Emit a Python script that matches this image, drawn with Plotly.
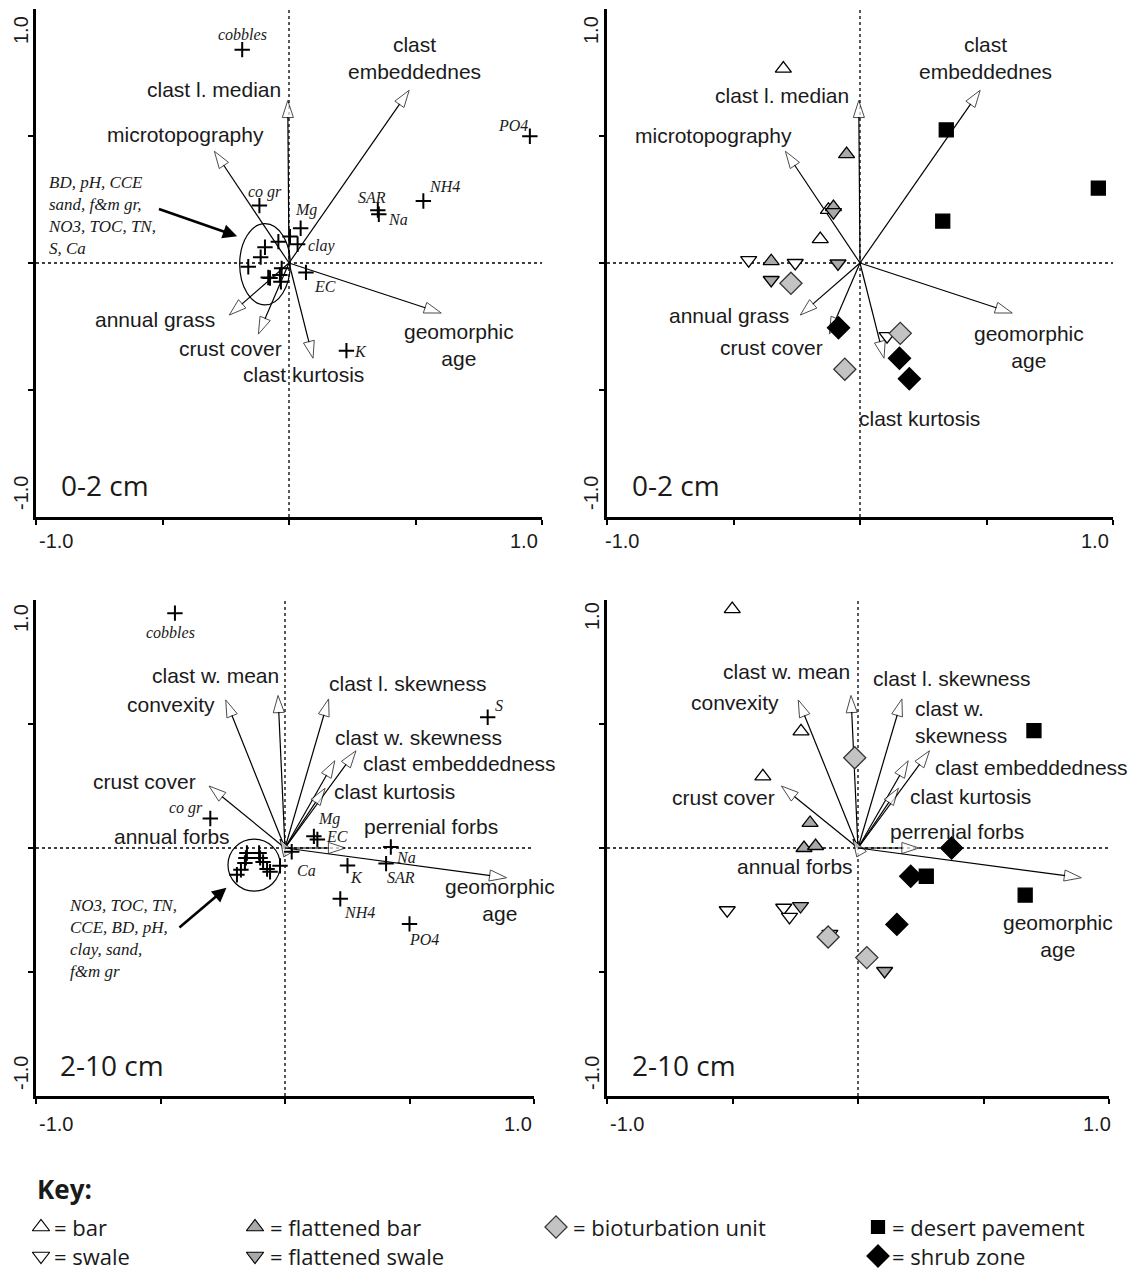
import plotly.graph_objects as go

W, H = 1135, 1272

# ======================= DATA =======================
# ---- 0-2 cm : biplot vectors ----
vec02_names = ["clast l. median", "clast<br>embeddednes", "microtopography",
               "annual grass", "crust cover", "clast kurtosis", "geomorphic<br>age"]
vec02_x = [-0.005, 0.475, -0.295, -0.236, -0.121, 0.095, 0.602]
vec02_y = [0.640, 0.680, 0.440, -0.205, -0.280, -0.375, -0.197]

# ---- 0-2 cm : soil variables ("+") ----
soil02_names = ["cobbles", "PO4", "NH4", "SAR", "Na", "Mg", "clay", "EC", "K", "co gr"]
soil02_x = [-0.185, 0.952, 0.531, 0.351, 0.355, 0.046, 0.034, 0.067, 0.227, -0.117]
soil02_y = [0.840, 0.499, 0.244, 0.208, 0.192, 0.137, 0.074, -0.037, -0.345, 0.226]
clus02_x = [0.004, -0.042, -0.095, -0.112, -0.161, -0.029, -0.036, -0.082, -0.075, -0.032]
clus02_y = [0.104, 0.084, 0.062, 0.023, -0.015, -0.021, -0.047, -0.057, -0.059, -0.074]
clus02_note = "BD, pH, CCE<br>sand, f&m gr,<br>NO3, TOC, TN,<br>S, Ca"

# ---- 0-2 cm : sites ----
bar02_x = [-0.303, -0.157, -0.125]
bar02_y = [0.765, 0.094, 0.209]
flatbar02_x = [-0.053, -0.351, -0.105]
flatbar02_y = [0.429, 0.007, 0.220]
swale02_x = [-0.440, -0.256, 0.107]
swale02_y = [0.011, 0.000, -0.288]
flatswale02_x = [-0.105, -0.087, -0.351]
flatswale02_y = [0.200, -0.002, -0.067]
bio02_x = [-0.273, 0.159, -0.060]
bio02_y = [-0.080, -0.277, -0.418]
pave02_x = [0.341, 0.942, 0.327]
pave02_y = [0.524, 0.295, 0.165]
shrub02_x = [-0.085, 0.156, 0.195]
shrub02_y = [-0.255, -0.375, -0.456]

# ---- 2-10 cm : biplot vectors ----
vec210_names = ["clast w. mean", "convexity", "clast l. skewness", "clast w. skewness",
                "clast embeddedness", "clast kurtosis", "crust cover", "annual forbs",
                "perrenial forbs", "geomorphic<br>age"]
vec210_names_r = ["clast w. mean", "convexity", "clast l. skewness", "clast w.<br>skewness",
                  "clast embeddedness", "clast kurtosis", "crust cover", "annual forbs",
                  "perrenial forbs", "geomorphic<br>age"]
vec210_x = [-0.028, -0.238, 0.175, 0.200, 0.285, 0.161, -0.305, -0.020, 0.243, 0.890]
vec210_y = [0.615, 0.597, 0.601, 0.352, 0.392, 0.241, 0.250, 0.035, 0.000, -0.120]

# ---- 2-10 cm : soil variables ----
soil210_names = ["cobbles", "S", "co gr", "Mg", "EC", "Na", "SAR", "K", "Ca", "NH4", "PO4"]
soil210_x = [-0.442, 0.814, -0.300, 0.116, 0.130, 0.425, 0.406, 0.251, 0.027, 0.222, 0.500]
soil210_y = [0.947, 0.527, 0.119, 0.047, 0.034, 0.004, -0.063, -0.071, -0.015, -0.205, -0.306]
clus210_x = [-0.153, -0.104, -0.157, -0.100, -0.161, -0.177, -0.193, -0.088, -0.072, -0.060, -0.020]
clus210_y = [-0.020, -0.020, -0.040, -0.040, -0.060, -0.088, -0.108, -0.056, -0.085, -0.096, -0.072]
clus210_note = "NO3, TOC, TN,<br>CCE, BD, pH,<br>clay, sand,<br>f&m gr"

# ---- 2-10 cm : sites ----
bar210_x = [-0.501, -0.227, -0.379]
bar210_y = [0.963, 0.470, 0.289]
flatbar210_x = [-0.191, -0.215, -0.169]
flatbar210_y = [0.101, 0.000, 0.008]
swale210_x = [-0.521, -0.296, -0.273]
swale210_y = [-0.251, -0.241, -0.278]
flatswale210_x = [-0.229, -0.112, 0.106]
flatswale210_y = [-0.234, -0.346, -0.496]
bio210_x = [-0.013, -0.119, 0.035]
bio210_y = [0.364, -0.359, -0.442]
pave210_x = [0.701, 0.272, 0.666]
pave210_y = [0.473, -0.114, -0.190]
shrub210_x = [0.373, 0.210, 0.155]
shrub210_y = [0.000, -0.114, -0.308]

key_labels = ["= bar", "= flattened bar", "= bioturbation unit", "= desert pavement",
              "= swale", "= flattened swale", "= shrub zone"]
panel_labels = ["0-2 cm", "0-2 cm", "2-10 cm", "2-10 cm"]

# ======================= LAYOUT / STYLE =======================
# label positions (data coords) for vector names
lab_tl = [(-0.295, 0.684), (0.497, 0.808), (-0.41, 0.505), (-0.53, -0.221),
          (-0.233, -0.335), (0.057, -0.44), (0.67, -0.322)]
lab_tr = [(-0.308, 0.661), (0.497, 0.808), (-0.581, 0.503), (-0.518, -0.208),
          (-0.348, -0.334), (0.234, -0.613), (0.668, -0.33)]
lab_bl = [(-0.28, 0.694), (-0.459, 0.577), (0.494, 0.664), (0.535, 0.445),
          (0.70, 0.341), (0.441, 0.226), (-0.564, 0.267), (-0.454, 0.047),
          (0.587, 0.085), (0.862, -0.21)]
lab_br = [(-0.285, 0.711), (-0.49, 0.585), (0.374, 0.684), (0.221, 0.507),
          (0.692, 0.326), (0.447, 0.208), (-0.536, 0.205), (-0.251, -0.076),
          (0.396, 0.068), (0.796, -0.353)]
# pixel offsets for soil labels
off02 = [(0, 15), (-17, 11), (21, 15), (-6, 13), (19, -5), (5, 18), (24, -2), (19, -14), (14, -1), (6, 14)]
off210 = [(-4, -19), (11, 12), (-24, 10), (15, 17), (20, 3), (15, -10), (15, -14), (9, -12), (15, -19), (19, -14), (14, -16)]

# panel domains in pixels: (x0, x1, y0_top, y1_bottom)
panels = [(36, 542, 9, 517), (607, 1113, 9, 517), (36, 534, 600, 1096), (607, 1109, 600, 1096)]

SANS = "Liberation Sans, Arial, sans-serif"
SERIF = "Liberation Serif, Times New Roman, serif"
MYR = "Open Sans, sans-serif"
TXT = "#1a1a1a"
GRAY_T = "#a9a9a9"
GRAY_D = "#c3c3c3"

fig = go.Figure()
ann = []
shapes = []

def axn(i):
    return ("x" if i == 0 else "x%d" % (i + 1)), ("y" if i == 0 else "y%d" % (i + 1))


def add_vectors(i, xs, ys, names, labpos, anchors=None):
    xa, ya = axn(i)
    for k, (x, y) in enumerate(zip(xs, ys)):
        fig.add_trace(go.Scatter(
            x=[0, x], y=[0, y], mode="lines+markers", xaxis=xa, yaxis=ya,
            line=dict(color="black", width=1.2),
            marker=dict(symbol="arrow", size=[0, 18], angleref="previous",
                        color="white", line=dict(color="black", width=1)),
            hoverinfo="skip", showlegend=False))
        lx, ly = labpos[k]
        xanch = anchors[k] if anchors else "center"
        ann.append(dict(x=lx, y=ly, xref=xa, yref=ya, text=names[k], showarrow=False,
                        xanchor=xanch, yanchor="middle", align="left" if xanch == "left" else "center",
                        font=dict(family=SANS, size=21, color=TXT)))


def add_soil(i, xs, ys, names, offs, cx, cy):
    xa, ya = axn(i)
    fig.add_trace(go.Scatter(
        x=list(xs) + list(cx), y=list(ys) + list(cy), mode="markers", xaxis=xa, yaxis=ya,
        marker=dict(symbol="cross-thin", size=11, color="black", line=dict(color="black", width=2)),
        hoverinfo="skip", showlegend=False))
    for k, (x, y) in enumerate(zip(xs, ys)):
        ann.append(dict(x=x, y=y, xref=xa, yref=ya, text="<i>%s</i>" % names[k], showarrow=False,
                        xshift=offs[k][0], yshift=offs[k][1],
                        font=dict(family=SERIF, size=16, color=TXT)))


def add_sites(i, groups):
    xa, ya = axn(i)
    for xs, ys, sym, fill, size, lc in groups:
        fig.add_trace(go.Scatter(
            x=xs, y=ys, mode="markers", xaxis=xa, yaxis=ya,
            marker=dict(symbol=sym, size=size, color=fill, line=dict(color=lc, width=1.3)),
            hoverinfo="skip", showlegend=False))


# --- top-left ---
add_vectors(0, vec02_x, vec02_y, vec02_names, lab_tl)
add_soil(0, soil02_x, soil02_y, soil02_names, off02, clus02_x, clus02_y)
shapes.append(dict(type="circle", xref="x", yref="y", x0=-0.195, x1=0.005, y0=-0.165, y1=0.155,
                   line=dict(color="black", width=1.2)))
ann.append(dict(x=-0.959, y=0.186, xref="x", yref="y", text="<i>%s</i>" % clus02_note, showarrow=False,
                xanchor="left", yanchor="middle", align="left",
                font=dict(family=SERIF, size=17, color=TXT)))
ann.append(dict(x=-0.205, y=0.105, ax=-0.52, ay=0.215, xref="x", yref="y", axref="x", ayref="y",
                text="", showarrow=True, arrowhead=2, arrowsize=1.1, arrowwidth=2.6, arrowcolor="black"))

# --- top-right ---
add_vectors(1, vec02_x, vec02_y, vec02_names, lab_tr)
groups02 = [
    (bar02_x, bar02_y, "triangle-up", "white", 14, "black"),
    (swale02_x, swale02_y, "triangle-down", "white", 14, "black"),
    (flatbar02_x, flatbar02_y, "triangle-up", GRAY_T, 14, "black"),
    (flatswale02_x, flatswale02_y, "triangle-down", GRAY_T, 14, "black"),
    (bio02_x, bio02_y, "diamond", GRAY_D, 17, "#333"),
    (pave02_x, pave02_y, "square", "black", 14, "black"),
    (shrub02_x, shrub02_y, "diamond", "black", 17, "black"),
]
add_sites(1, groups02)

# --- bottom-left ---
add_vectors(2, vec210_x, vec210_y, vec210_names, lab_bl)
add_soil(2, soil210_x, soil210_y, soil210_names, off210, clus210_x, clus210_y)
shapes.append(dict(type="circle", xref="x3", yref="y3", x0=-0.229, x1=-0.019, y0=-0.174, y1=0.036,
                   line=dict(color="black", width=1.2)))
ann.append(dict(x=-0.877, y=-0.364, xref="x3", yref="y3", text="<i>%s</i>" % clus210_note, showarrow=False,
                xanchor="left", yanchor="middle", align="left",
                font=dict(family=SERIF, size=17, color=TXT)))
ann.append(dict(x=-0.235, y=-0.16, ax=-0.43, ay=-0.326, xref="x3", yref="y3", axref="x3", ayref="y3",
                text="", showarrow=True, arrowhead=2, arrowsize=1.1, arrowwidth=2.6, arrowcolor="black"))

# --- bottom-right ---
anch_br = ["center"] * 10
anch_br[3] = "left"
add_vectors(3, vec210_x, vec210_y, vec210_names_r, lab_br, anch_br)
groups210 = [
    (bar210_x, bar210_y, "triangle-up", "white", 14, "black"),
    (swale210_x, swale210_y, "triangle-down", "white", 14, "black"),
    (flatbar210_x, flatbar210_y, "triangle-up", GRAY_T, 14, "black"),
    (flatswale210_x, flatswale210_y, "triangle-down", GRAY_T, 14, "black"),
    (bio210_x, bio210_y, "diamond", GRAY_D, 17, "#333"),
    (pave210_x, pave210_y, "square", "black", 14, "black"),
    (shrub210_x, shrub210_y, "diamond", "black", 17, "black"),
]
add_sites(3, groups210)

# --- axes, zero lines, panel labels ---
layout_axes = {}
for i, (x0, x1, y0, y1) in enumerate(panels):
    xa, ya = axn(i)
    xkey = "xaxis" if i == 0 else "xaxis%d" % (i + 1)
    ykey = "yaxis" if i == 0 else "yaxis%d" % (i + 1)
    layout_axes[xkey] = dict(domain=[x0 / W, x1 / W], range=[-1, 1], anchor=ya,
                             showline=True, linewidth=3, linecolor="black", ticks="outside",
                             ticklen=5, tickwidth=2, tickcolor="black",
                             tickvals=[-1, -0.5, 0, 0.5, 1], showticklabels=False,
                             showgrid=False, zeroline=False, fixedrange=True)
    layout_axes[ykey] = dict(domain=[1 - y1 / H, 1 - y0 / H], range=[-1, 1], anchor=xa,
                             showline=True, linewidth=3, linecolor="black", ticks="outside",
                             ticklen=5, tickwidth=2, tickcolor="black",
                             tickvals=[-0.5, 0, 0.5], showticklabels=False,
                             showgrid=False, zeroline=False, fixedrange=True)
    shapes.append(dict(type="line", xref=xa, yref=ya, x0=-1, x1=1, y0=0, y1=0,
                       line=dict(color="black", width=1.3, dash="dot"), layer="below"))
    shapes.append(dict(type="line", xref=xa, yref=ya, x0=0, x1=0, y0=-1, y1=1,
                       line=dict(color="black", width=1.3, dash="dot"), layer="below"))
    ann.append(dict(x=-0.91, y=-0.875, xref=xa, yref=ya, text=panel_labels[i], showarrow=False,
                    xanchor="left", yanchor="middle", font=dict(family=MYR, size=28, color=TXT)))

# tick labels (pixel positions)
def P(px, py):
    return px / W, 1 - py / H

tick_pos = [
    # (x, y, text, rotated)
    (21, 30, "1.0", True), (21, 493, "-1.0", True), (56, 541, "-1.0", False), (524, 541, "1.0", False),
    (591, 30, "1.0", True), (591, 493, "-1.0", True), (622, 541, "-1.0", False), (1095, 541, "1.0", False),
    (21, 618, "1.0", True), (21, 1073, "-1.0", True), (56, 1124, "-1.0", False), (518, 1124, "1.0", False),
    (592, 616, "1.0", True), (592, 1073, "-1.0", True), (627, 1124, "-1.0", False), (1097, 1124, "1.0", False),
]
for px, py, t, rot in tick_pos:
    x, y = P(px, py)
    ann.append(dict(x=x, y=y, xref="paper", yref="paper", text=t, showarrow=False,
                    xanchor="center", yanchor="middle", textangle=-90 if rot else 0,
                    font=dict(family=SANS, size=20, color=TXT)))

# --- key ---
layout_axes["xaxis5"] = dict(domain=[0, 1], range=[0, W], anchor="y5", visible=False, fixedrange=True)
layout_axes["yaxis5"] = dict(domain=[0, (H - 1150) / H], range=[H, 1150], anchor="x5", visible=False,
                             fixedrange=True)
key_marker_pos = [(41, 1227), (255, 1227), (556, 1227), (878, 1227), (41, 1256), (255, 1256), (878, 1256)]
key_text_x = [52, 268, 571, 890, 52, 268, 890]
key_style = [("triangle-up", "white", 15, "black"), ("triangle-up", GRAY_T, 15, "black"),
             ("diamond", GRAY_D, 17, "#333"), ("square", "black", 13, "black"),
             ("triangle-down", "white", 15, "black"), ("triangle-down", GRAY_T, 15, "black"),
             ("diamond", "black", 17, "black")]
for k, lab in enumerate(key_labels):
    sym, fill, size, lc = key_style[k]
    mx, my = key_marker_pos[k]
    fig.add_trace(go.Scatter(x=[mx], y=[my], mode="markers", xaxis="x5", yaxis="y5",
                             marker=dict(symbol=sym, size=size, color=fill, line=dict(color=lc, width=1.2)),
                             hoverinfo="skip", showlegend=False))
    ann.append(dict(x=key_text_x[k], y=my, xref="x5", yref="y5", text=lab, showarrow=False,
                    xanchor="left", yanchor="middle", font=dict(family=MYR, size=22, color=TXT)))
ann.append(dict(x=35, y=1189, xref="x5", yref="y5", text="<b>Key:</b>", showarrow=False,
                xanchor="left", yanchor="middle", font=dict(family=MYR, size=26, color=TXT)))

fig.update_layout(width=W, height=H, margin=dict(l=0, r=0, t=0, b=0),
                  paper_bgcolor="white", plot_bgcolor="rgba(0,0,0,0)",
                  showlegend=False, annotations=ann, shapes=shapes, **layout_axes)

fig.write_html("out.html", config={"displayModeBar": False},
               post_script="document.body.style.margin='0';")
